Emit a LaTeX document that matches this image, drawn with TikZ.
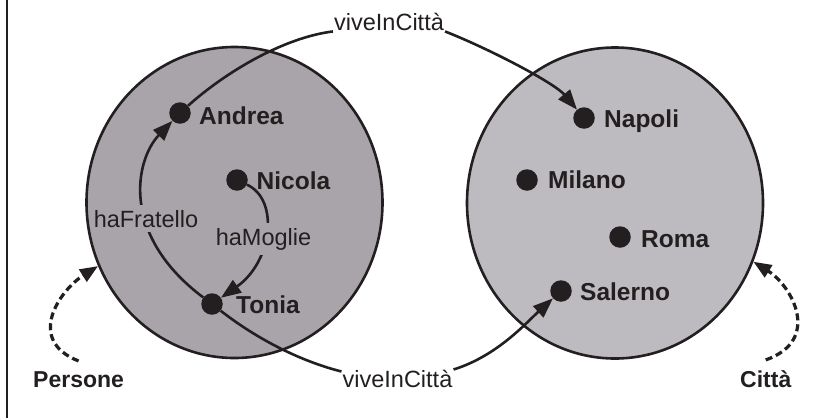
\documentclass[tikz,border=0pt]{standalone}
\usepackage{fontspec}
\setmainfont{Liberation Sans}
\usetikzlibrary{arrows.meta,shapes.geometric}
\definecolor{ink}{HTML}{231F20}
\definecolor{greyL}{HTML}{A8A4A9}
\definecolor{greyR}{HTML}{BDBBC0}
\begin{document}
\begin{tikzpicture}[x=1pt,y=-1pt,
  setc/.style={ellipse, draw=ink, line width=2.6pt, minimum width=296pt, minimum height=311pt, inner sep=0},
  dotn/.style={circle, fill=ink, minimum size=21.5pt, inner sep=0},
  itemlbl/.style={anchor=base west, inner sep=0, text=ink, font=\fontsize{24.5}{28}\selectfont\bfseries},
  setlbl/.style={anchor=base west, inner sep=0, text=ink, font=\fontsize{23}{27}\selectfont\bfseries},
  rel/.style={anchor=base, inner xsep=1pt, inner ysep=1pt, text=ink, font=\fontsize{23.5}{27}\selectfont},
  relfill/.style={rel, inner xsep=2pt, inner ysep=5pt, fill=greyL},
  link/.style={draw=ink, line width=2.6pt},
  arr/.style={link, -{Triangle[length=20pt,width=15pt]}},
  dasharr/.style={draw=ink, line width=3.2pt, dash pattern=on 7pt off 4pt, -{Triangle[length=18pt,width=14pt]}},
]
\useasboundingbox (0,0) rectangle (824,418);
\fill[white] (0,0) rectangle (824,418);
\draw[ink, line width=1.5pt] (7,0) -- (7,418);

% sets
\node[setc, fill=greyL] (lc) at (234.5,202.5) {};
\node[setc, fill=greyR] (rc) at (615,203) {};

% elements
\node[dotn] (andrea) at (180,113) {};
\node[dotn] (nicola) at (237,180) {};
\node[dotn] (tonia) at (212,304) {};
\node[dotn] (napoli) at (584,118) {};
\node[dotn] (milano) at (527,180) {};
\node[dotn] (roma) at (620,237) {};
\node[dotn] (salerno) at (561,291) {};

% relation labels (outer)
\node[rel] (vt) at (389,30) {viveInCittà};
\node[rel] (vb) at (397.5,387) {viveInCittà};

% set labels
\node[setlbl] (pers) at (33,387) {Persone};
\node[setlbl] (citta) at (740,387) {Città};

% edges
\draw[link] (andrea) .. controls (224.6,72.9) and (282.8,37.7) .. (vt.south west);
\draw[arr] (vt.south east) .. controls (492,50) and (555,83.5) .. (napoli);
\draw[arr] (tonia) .. controls (120,235) and (135,160) .. (andrea);
\draw[arr] (nicola) .. controls (280,200) and (272,262) .. (tonia);
\draw[link] (tonia) .. controls (257,339) and (300,361) .. ([yshift=-3pt]vb.north west);
\draw[arr] ([yshift=-1pt]vb.north east) .. controls (497,356) and (526,323) .. (salerno);

\draw[dasharr] ([yshift=10pt]pers.north) .. controls (25,340) and (60,290) .. (lc.205);
\draw[dasharr] ([yshift=10pt]citta.north) .. controls (822,340) and (792,286) .. (rc.337);

% inner relation labels
\node[relfill] (hf) at (146,227) {haFratello};
\node[relfill] (hm) at (263.5,245) {haMoglie};

% element names
\node[itemlbl] at (199,124) {Andrea};
\node[itemlbl] at (256.5,189.5) {Nicola};
\node[itemlbl] at (236,313.5) {Tonia};
\node[itemlbl] at (604,127) {Napoli};
\node[itemlbl] at (548,188.5) {Milano};
\node[itemlbl] at (641,247) {Roma};
\node[itemlbl] at (580,300) {Salerno};
\end{tikzpicture}
\end{document}
